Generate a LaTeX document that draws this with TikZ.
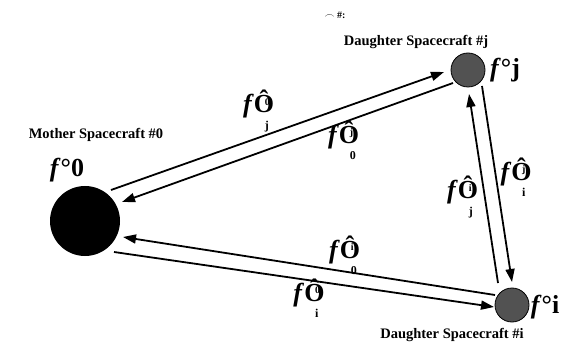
\documentclass[tikz,border=0pt]{standalone}
\usepackage{fontspec}
\setmainfont{Liberation Serif}
\usetikzlibrary{arrows.meta}
\newcommand{\spclab}[2]{\textbf{\textit{f}Ô}\kern-0.36em\rlap{\raisebox{0.28em}{\fontsize{10}{10}\selectfont\bfseries #1}}\raisebox{-0.62em}{\fontsize{12}{12}\selectfont\bfseries #2}}
\begin{document}
\begin{tikzpicture}[x=1pt,y=-1pt,
  arr/.style={line width=1.8pt,-{Triangle[length=13pt,width=9pt]}},
  scname/.style={font=\fontsize{14.5}{16}\selectfont\bfseries},
  big/.style={font=\fontsize{26}{28}\selectfont\bfseries},
  lbl/.style={font=\fontsize{26}{28}\selectfont, inner sep=0pt},
  dau/.style={circle,fill=black!68,draw=black,line width=0.8pt,minimum size=34pt,inner sep=0pt}]
\useasboundingbox (0,0) rectangle (572,347);
\fill[white] (0,0) rectangle (572,347);
% spacecraft
\node[circle,fill=black,minimum size=70pt,inner sep=0pt] (m) at (85,221) {};
\node[dau] (j) at (468,70) {};
\node[dau] (i) at (512,305) {};
% names
\node[scname] (mn) at (96,135) {Mother Spacecraft \#0};
\node[scname] (jn) at (416,42) {Daughter Spacecraft \#j};
\node[scname] (in) at (452,335) {Daughter Spacecraft \#i};
\node[big] (mf) at (67,170) {\textit{f}°0};
\node[big] (jf) at (505,70) {\textit{f}°j};
\node[big] (if) at (545,307) {\textit{f}°i};
\node (cut) at (335,15) {\fontsize{10}{10}\selectfont $\frown$ \textbf{\#:}};
% connector endpoints
\coordinate (m1) at (111,190);
\coordinate (m2) at (122,202);
\coordinate (m3) at (123,237);
\coordinate (m4) at (114,252);
\coordinate (j1) at (444,72);
\coordinate (j2) at (453,83);
\coordinate (j3) at (469,94);
\coordinate (j4) at (482,86);
\coordinate (i1) at (494,307);
\coordinate (i2) at (495,295);
\coordinate (i3) at (498,283);
\coordinate (i4) at (512,282);
% arrows
\draw[arr] (m1) -- (j1);
\draw[arr] (j2) -- (m2);
\draw[arr] (i2) -- (m3);
\draw[arr] (m4) -- (i1);
\draw[arr] (i3) -- (j3);
\draw[arr] (j4) -- (i4);
% labels
\node[lbl] (l1) at (256,111) {\spclab{0}{j}};
\node[lbl] (l2) at (342,140) {\spclab{j}{0}};
\node[lbl] (l3) at (460,197) {\spclab{i}{j}};
\node[lbl] (l4) at (513,177) {\spclab{j}{i}};
\node[lbl] (l5) at (343,255) {\spclab{i}{0}};
\node[lbl] (l6) at (306,298) {\spclab{0}{i}};
\end{tikzpicture}
\end{document}
